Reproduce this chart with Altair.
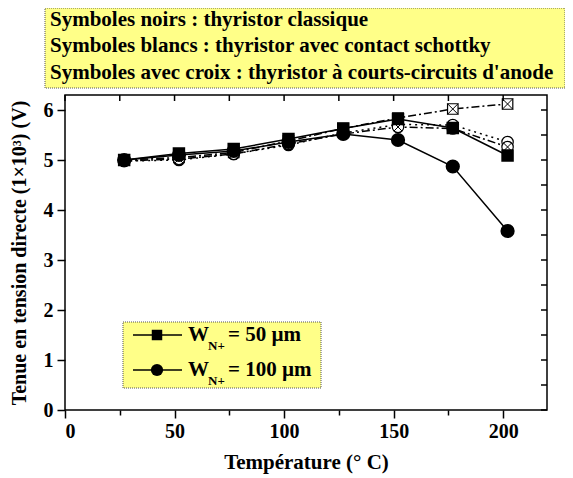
import altair as alt
import pandas as pd

temps = [27, 52, 77, 102, 127, 152, 177, 202]
classic_50 = [5.0, 5.13, 5.22, 5.42, 5.63, 5.82, 5.64, 5.09]
classic_100 = [5.0, 5.1, 5.18, 5.36, 5.52, 5.4, 4.87, 3.58]
schottky_100 = [4.98, 5.0, 5.12, 5.3, 5.54, 5.71, 5.7, 5.36]
croix_50 = [5.0, 5.05, 5.15, 5.38, 5.63, 5.84, 6.02, 6.12]
croix_100 = [4.98, 5.02, 5.12, 5.32, 5.52, 5.66, 5.63, 5.26]

info_lines = [
    "Symboles noirs : thyristor classique",
    "Symboles blancs : thyristor avec contact schottky",
    "Symboles avec croix : thyristor à courts-circuits d'anode",
]
legend_labels = ["= 50 µm", "= 100 µm"]

FONT = "'Liberation Serif', 'Times New Roman', Times, serif"
W, H = 482, 315
XDOM = [0, 220]
YDOM = [0, 6.3]
YELLOW = "#ffff88"

xs = alt.Scale(domain=XDOM, nice=False, zero=False)
ys = alt.Scale(domain=YDOM, nice=False, zero=False)

XPATH = "M-1,-1L1,1M-1,1L1,-1"
XPATH_S = "M-0.7,-0.7L0.7,0.7M-0.7,0.7L0.7,-0.7"


def df(vals):
    return pd.DataFrame({"t": temps, "v": vals})


base_x = alt.X(
    "t:Q", scale=xs,
    axis=alt.Axis(
        values=list(range(0, 201, 25)),
        format="d",
        labelExpr="datum.value % 50 === 0 ? datum.label : ''",
        title="Température (° C)",
        tickSize={"condition": {"test": "datum.value % 50 === 0", "value": 8}, "value": 5},
        tickColor="black", tickWidth=1.5, domain=False, grid=False,
        labelFont=FONT, labelFontSize=20, labelFontWeight="bold", labelColor="black",
        labelPadding=3,
        titleFont=FONT, titleFontSize=21, titleFontWeight="bold", titleColor="black",
        titlePadding=10,
    ),
)
base_y = alt.Y(
    "v:Q", scale=ys,
    axis=alt.Axis(
        values=[i * 0.5 for i in range(0, 13)],
        format="d",
        labelExpr="datum.value % 1 === 0 ? datum.label : ''",
        title="Tenue en tension directe (1×10³) (V)",
        tickSize={"condition": {"test": "datum.value % 1 === 0", "value": 8}, "value": 5},
        tickColor="black", tickWidth=1.5, domain=False, grid=False,
        labelFont=FONT, labelFontSize=20, labelFontWeight="bold", labelColor="black",
        labelPadding=4,
        titleFont=FONT, titleFontSize=20, titleFontWeight="bold", titleColor="black",
        titlePadding=14,
    ),
)


def line(vals, dash=None):
    kw = dict(color="black", strokeWidth=1.5)
    if dash:
        kw["strokeDash"] = dash
    return alt.Chart(df(vals)).mark_line(**kw).encode(
        x=alt.X("t:Q", scale=xs), y=alt.Y("v:Q", scale=ys))


def pts(vals, shape, filled, size, stroke_w=1.2):
    if filled:
        m = alt.Chart(df(vals)).mark_point(shape=shape, filled=True, fill="black",
                                          stroke="black", size=size, opacity=1)
    else:
        m = alt.Chart(df(vals)).mark_point(shape=shape, filled=False, fill="white",
                                          fillOpacity=1, stroke="black",
                                          strokeWidth=stroke_w, size=size, opacity=1)
    return m.encode(x=alt.X("t:Q", scale=xs), y=alt.Y("v:Q", scale=ys))


def cross(vals, path, size):
    return alt.Chart(df(vals)).mark_point(shape=path, filled=False, stroke="black",
                                         strokeWidth=1, size=size, opacity=1).encode(
        x=alt.X("t:Q", scale=xs), y=alt.Y("v:Q", scale=ys))


layers = [
    line(croix_50, [8, 3, 2, 3]),
    line(croix_100, [8, 3, 2, 3]),
    line(schottky_100, [2, 4]),
    line(classic_50),
    line(classic_100),
    pts(croix_50, "square", False, 110),
    cross(croix_50, XPATH, 110),
    pts(schottky_100, "circle", False, 130),
    pts(croix_100, "circle", False, 130),
    cross(croix_100, XPATH_S, 130),
    pts(classic_50, "square", True, 110),
    pts(classic_100, "circle", True, 150),
]

# top and right inner ticks
top_ticks = pd.DataFrame({"t": list(range(0, 201, 25))})
right_ticks = pd.DataFrame({"v": [i * 0.5 for i in range(0, 13)]})
top = alt.Chart(top_ticks).mark_rule(color="black", strokeWidth=1.5).encode(
    x=alt.X("t:Q", scale=xs), y=alt.value(0), y2=alt.value(6))
right = alt.Chart(right_ticks).mark_rule(color="black", strokeWidth=1.5).encode(
    y=alt.Y("v:Q", scale=ys), x=alt.value(W), x2=alt.value(W - 6))

one = pd.DataFrame({"a": [0]})

# info box above plot
info_box = alt.Chart(one).mark_rect(
    fill=YELLOW, stroke="#555555", strokeWidth=1, strokeDash=[1, 1]).encode(
    x=alt.value(-20), x2=alt.value(500), y=alt.value(-87), y2=alt.value(-7))
info_texts = []
for txt, yy in zip(info_lines, [-75, -49, -22]):
    info_texts.append(
        alt.Chart(one).mark_text(
            align="left", baseline="middle", font=FONT, fontSize=21, fontWeight="bold",
            color="black", text=txt).encode(x=alt.value(-15), y=alt.value(yy)))

# legend box inside plot
leg_box = alt.Chart(one).mark_rect(
    fill=YELLOW, stroke="#555555", strokeWidth=1, strokeDash=[1, 1]).encode(
    x=alt.value(58), x2=alt.value(256), y=alt.value(227), y2=alt.value(293))
leg_layers = []
for i, (lab, yy) in enumerate(zip(legend_labels, [240, 275])):
    leg_layers.append(alt.Chart(one).mark_rule(color="black", strokeWidth=1.5).encode(
        x=alt.value(68), x2=alt.value(117), y=alt.value(yy)))
    if i == 0:
        leg_layers.append(alt.Chart(one).mark_point(
            shape="square", filled=True, fill="black", size=110, opacity=1).encode(
            x=alt.value(92), y=alt.value(yy)))
    else:
        leg_layers.append(alt.Chart(one).mark_point(
            shape="circle", filled=True, fill="black", size=150, opacity=1).encode(
            x=alt.value(92), y=alt.value(yy)))
    leg_layers.append(alt.Chart(one).mark_text(
        align="left", baseline="middle", font=FONT, fontSize=21, fontWeight="bold",
        color="black", text="W").encode(x=alt.value(123), y=alt.value(yy)))
    leg_layers.append(alt.Chart(one).mark_text(
        align="left", baseline="middle", font=FONT, fontSize=13, fontWeight="bold",
        color="black", text="N+").encode(x=alt.value(143), y=alt.value(yy + 11)))
    leg_layers.append(alt.Chart(one).mark_text(
        align="left", baseline="middle", font=FONT, fontSize=21, fontWeight="bold",
        color="black", text=lab).encode(x=alt.value(163), y=alt.value(yy)))

axes_layer = alt.Chart(df(classic_50)).mark_point(opacity=0).encode(x=base_x, y=base_y)

chart = alt.layer(
    axes_layer, info_box, *info_texts, *layers, top, right,
    leg_box, *leg_layers,
).properties(
    width=W, height=H,
    autosize=alt.AutoSizeParams(type="none"),
    padding={"left": 57, "top": 87, "right": 18, "bottom": 68},
    background="white",
).configure_view(stroke="black", strokeWidth=1.5)

chart.save("out.html", embed_options={"renderer": "svg", "actions": False})
